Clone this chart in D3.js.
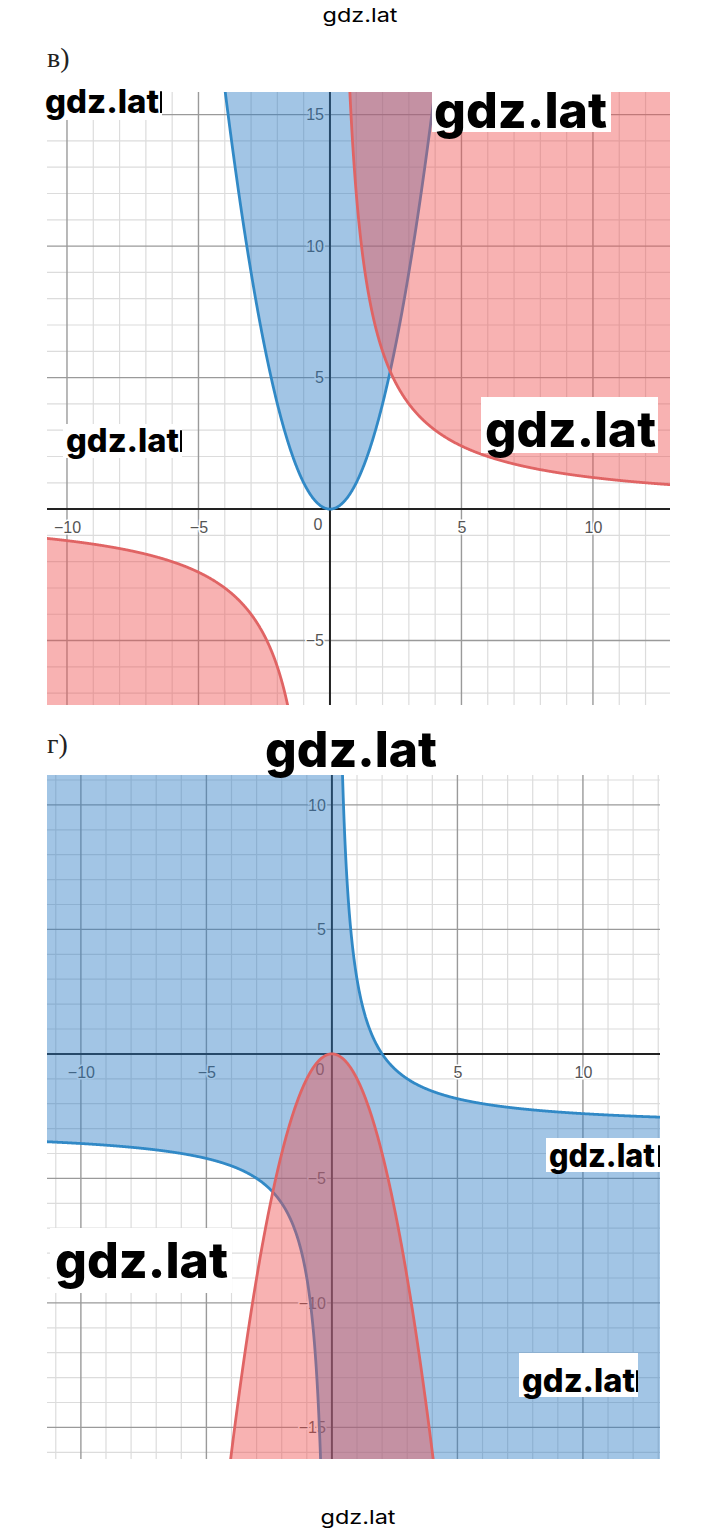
<!DOCTYPE html>
<html>
<head>
<meta charset="utf-8">
<script src="https://cdn.jsdelivr.net/npm/d3@7"></script>
<style>
  html, body { margin: 0; padding: 0; background: #ffffff; }
  svg { display: block; }
</style>
</head>
<body>
<script>
// ---------------- data ----------------
const panelNames = ["в)", "г)"];
const xTickValues = [-10, -5, 5, 10];
const yTickValuesV = [-5, 5, 10, 15];
const yTickValuesG = [-15, -10, -5, 5, 10];
const xDomains = [[-10.76, 12.93], [-11.35, 13.07]];
const yDomains = [[-7.45, 15.86], [-16.27, 11.2]];
// parabola y = a*x^2 (region on the opening side)
const parabolaA = [1, -1];
// hyperbola y = k/x + c ; sign = inequality for x > 0
const hyperbolaK = [12, 6];
const hyperbolaC = [0, -3];
const hyperbolaSign = [">=", "<="];
// watermark texts
const watermarkTexts = ["gdz.lat", "gdz.lat", "gdz.lat", "gdz.lat", "gdz.lat", "gdz.lat", "gdz.lat", "gdz.lat"];
const pageTexts = ["gdz.lat", "gdz.lat"];

// ---------------- layout ----------------
const W = 720, H = 1533;
const boxes = [
  { x0: 47, x1: 670, y0: 92, y1: 705, labelBase: 67 },
  { x0: 47, x1: 660, y0: 775, y1: 1459, labelBase: 753 }
];
const yTicksList = [yTickValuesV, yTickValuesG];

const BLUE_FILL = "rgb(44,124,195)";
const RED_FILL = "rgb(238,80,80)";
const FILL_OP = 0.44;
const BLUE_LINE = "#3189c6";
const RED_LINE = "#e06464";

const svg = d3.select("body").append("svg")
  .attr("width", W).attr("height", H)
  .attr("viewBox", `0 0 ${W} ${H}`);

svg.append("rect").attr("width", W).attr("height", H).attr("fill", "#fff");

function drawPanel(i) {
  const b = boxes[i];
  const [xmin, xmax] = xDomains[i];
  const [ymin, ymax] = yDomains[i];
  const x = d3.scaleLinear().domain(xDomains[i]).range([b.x0, b.x1]);
  const y = d3.scaleLinear().domain(yDomains[i]).range([b.y1, b.y0]);

  // panel label
  svg.append("text")
    .attr("x", 47).attr("y", b.labelBase)
    .attr("font-family", "'Liberation Serif', 'DejaVu Serif', serif")
    .attr("font-size", 28).attr("fill", "#222")
    .text(panelNames[i]);

  const clipId = "clip" + i;
  svg.append("clipPath").attr("id", clipId)
    .append("rect").attr("x", b.x0).attr("y", b.y0)
    .attr("width", b.x1 - b.x0).attr("height", b.y1 - b.y0);

  const g = svg.append("g").attr("clip-path", `url(#${clipId})`);

  // grid
  const xs = d3.range(Math.ceil(xmin), Math.floor(xmax) + 1);
  const ys = d3.range(Math.ceil(ymin), Math.floor(ymax) + 1);
  const minor = g.append("g");
  const major = g.append("g");
  xs.forEach(v => {
    if (v === 0) return;
    const isMaj = v % 5 === 0;
    (isMaj ? major : minor).append("line")
      .attr("x1", x(v)).attr("x2", x(v)).attr("y1", b.y0).attr("y2", b.y1)
      .attr("stroke", isMaj ? "#9a9a9a" : "#dcdcdc")
      .attr("stroke-width", isMaj ? 1.4 : 1.2);
  });
  ys.forEach(v => {
    if (v === 0) return;
    const isMaj = v % 5 === 0;
    (isMaj ? major : minor).append("line")
      .attr("y1", y(v)).attr("y2", y(v)).attr("x1", b.x0).attr("x2", b.x1)
      .attr("stroke", isMaj ? "#9a9a9a" : "#dcdcdc")
      .attr("stroke-width", isMaj ? 1.4 : 1.2);
  });

  // axes lines
  g.append("line").attr("x1", b.x0).attr("x2", b.x1).attr("y1", y(0)).attr("y2", y(0))
    .attr("stroke", "#222").attr("stroke-width", 2);
  g.append("line").attr("x1", x(0)).attr("x2", x(0)).attr("y1", b.y0).attr("y2", b.y1)
    .attr("stroke", "#222").attr("stroke-width", 2);

  // tick labels through d3 axes
  const labelFont = "'Liberation Sans', Arial, sans-serif";
  const xa = g.append("g").attr("transform", `translate(0,${y(0)})`)
    .call(d3.axisBottom(x).tickValues(xTickValues).tickSize(0).tickPadding(13).tickFormat(d3.format("d")));
  const ya = g.append("g").attr("transform", `translate(${x(0)},0)`)
    .call(d3.axisLeft(y).tickValues(yTicksList[i]).tickSize(0).tickPadding(6).tickFormat(d3.format("d")));
  [xa, ya].forEach(a => {
    a.select(".domain").remove();
    a.selectAll("text")
      .attr("font-family", labelFont).attr("font-size", 16)
      .attr("fill", "#555").attr("stroke", "#fff").attr("stroke-width", 3)
      .attr("paint-order", "stroke");
  });
  g.append("text").attr("x", x(0) - 12).attr("y", y(0) + 21)
    .attr("text-anchor", "middle")
    .attr("font-family", labelFont).attr("font-size", 16)
    .attr("fill", "#555").attr("stroke", "#fff").attr("stroke-width", 3)
    .attr("paint-order", "stroke").text("0");

  // ---------- hyperbola region & line ----------
  const k = hyperbolaK[i], c = hyperbolaC[i];
  const f = t => k / t + c;
  const clampY = v => Math.max(ymin - 2, Math.min(ymax + 2, v));
  function hypSamples(lo, hi) {
    const pts = d3.range(0, 801).map(j => lo + (hi - lo) * j / 800);
    d3.range(0, 801).forEach(j => {
      const yy = (ymin - 2) + (ymax - ymin + 4) * j / 800;
      if (yy === c) return;
      const t = k / (yy - c);
      if (t > lo && t < hi) pts.push(t);
    });
    return pts.filter(t => t !== 0).sort((a, b) => a - b);
  }
  const negX = hypSamples(xmin - 0.5, -1e-4);
  const posX = hypSamples(1e-4, xmax + 0.5);
  const posAbove = hyperbolaSign[i] === ">=";

  const hypAreaPos = d3.area().x(t => x(t))
    .y0(t => y(clampY(f(t)))).y1(posAbove ? y(ymax + 2) : y(ymin - 2));
  const hypAreaNeg = d3.area().x(t => x(t))
    .y0(t => y(clampY(f(t)))).y1(posAbove ? y(ymin - 2) : y(ymax + 2));
  const hypLine = d3.line().x(t => x(t)).y(t => y(clampY(f(t))));

  // ---------- parabola region & line ----------
  const a = parabolaA[i];
  const bound = a > 0 ? ymax + 2 : ymin - 2;
  const half = Math.sqrt(bound / a);
  const px = d3.range(0, 601).map(j => -half + 2 * half * j / 600);
  const parArea = d3.area().x(t => x(t)).y0(t => y(a * t * t)).y1(y(bound));
  const parLine = d3.line().x(t => x(t)).y(t => y(a * t * t));

  // blue is drawn first, red on top
  const layers = i === 0
    ? [
        { kind: "par", color: BLUE_FILL, line: BLUE_LINE },
        { kind: "hyp", color: RED_FILL, line: RED_LINE }
      ]
    : [
        { kind: "hyp", color: BLUE_FILL, line: BLUE_LINE },
        { kind: "par", color: RED_FILL, line: RED_LINE }
      ];

  layers.forEach(L => {
    if (L.kind === "par") {
      g.append("path").datum(px).attr("d", parArea)
        .attr("fill", L.color).attr("fill-opacity", FILL_OP);
      g.append("path").datum(px).attr("d", parLine)
        .attr("fill", "none").attr("stroke", L.line).attr("stroke-width", 2.8);
    } else {
      g.append("path").datum(negX).attr("d", hypAreaNeg)
        .attr("fill", L.color).attr("fill-opacity", FILL_OP);
      g.append("path").datum(posX).attr("d", hypAreaPos)
        .attr("fill", L.color).attr("fill-opacity", FILL_OP);
      g.append("path").datum(negX).attr("d", hypLine)
        .attr("fill", "none").attr("stroke", L.line).attr("stroke-width", 2.8);
      g.append("path").datum(posX).attr("d", hypLine)
        .attr("fill", "none").attr("stroke", L.line).attr("stroke-width", 2.8);
    }
  });
}

drawPanel(0);
drawPanel(1);

// ---------------- watermarks ----------------
const wmLayout = [
  { x: 434, base: 128, len: 173, size: 50, box: [432, 88, 611, 132] },
  { x: 485, base: 447, len: 171, size: 50, box: [481, 397, 658, 453] },
  { x: 265, base: 767, len: 172, size: 50, box: [262, 725, 440, 771] },
  { x: 55, base: 1278, len: 173, size: 50, box: [50, 1228, 232, 1293] },
  { x: 45, base: 113, len: 114, size: 32, box: [43, 86, 162, 120], sliver: true },
  { x: 66, base: 452, len: 113, size: 32, box: [63, 424, 182, 458], sliver: true },
  { x: 549, base: 1167, len: 106, size: 32, box: [546, 1138, 660, 1172], sliver: true },
  { x: 522, base: 1392, len: 113, size: 32, box: [519, 1353, 638, 1397], sliver: true }
];
const wm = svg.append("g");
wmLayout.forEach((d, j) => {
  const [bx0, by0, bx1, by1] = d.box;
  wm.append("rect").attr("x", bx0).attr("y", by0)
    .attr("width", bx1 - bx0).attr("height", by1 - by0).attr("fill", "#fff");
  wm.append("text").attr("x", d.x).attr("y", d.base)
    .attr("font-family", "Inter, 'Open Sans', sans-serif")
    .attr("font-weight", 800).attr("font-size", d.size).attr("fill", "#000")
    .attr("textLength", d.len).attr("lengthAdjust", "spacingAndGlyphs")
    .text(watermarkTexts[j]);
  if (d.sliver) {
    wm.append("rect").attr("x", bx1 - 2).attr("y", d.base - d.size * 0.68)
      .attr("width", 2).attr("height", d.size * 0.68).attr("fill", "#000");
  }
});

// top / bottom page text
[[360, 22], [358, 1524]].forEach((p, j) => {
  svg.append("text").attr("x", p[0]).attr("y", p[1])
    .attr("text-anchor", "middle")
    .attr("font-family", "Inter, 'Open Sans', sans-serif")
    .attr("font-size", 19).attr("fill", "#000")
    .attr("textLength", 75).attr("lengthAdjust", "spacingAndGlyphs")
    .text(pageTexts[j]);
});
</script>
</body>
</html>
